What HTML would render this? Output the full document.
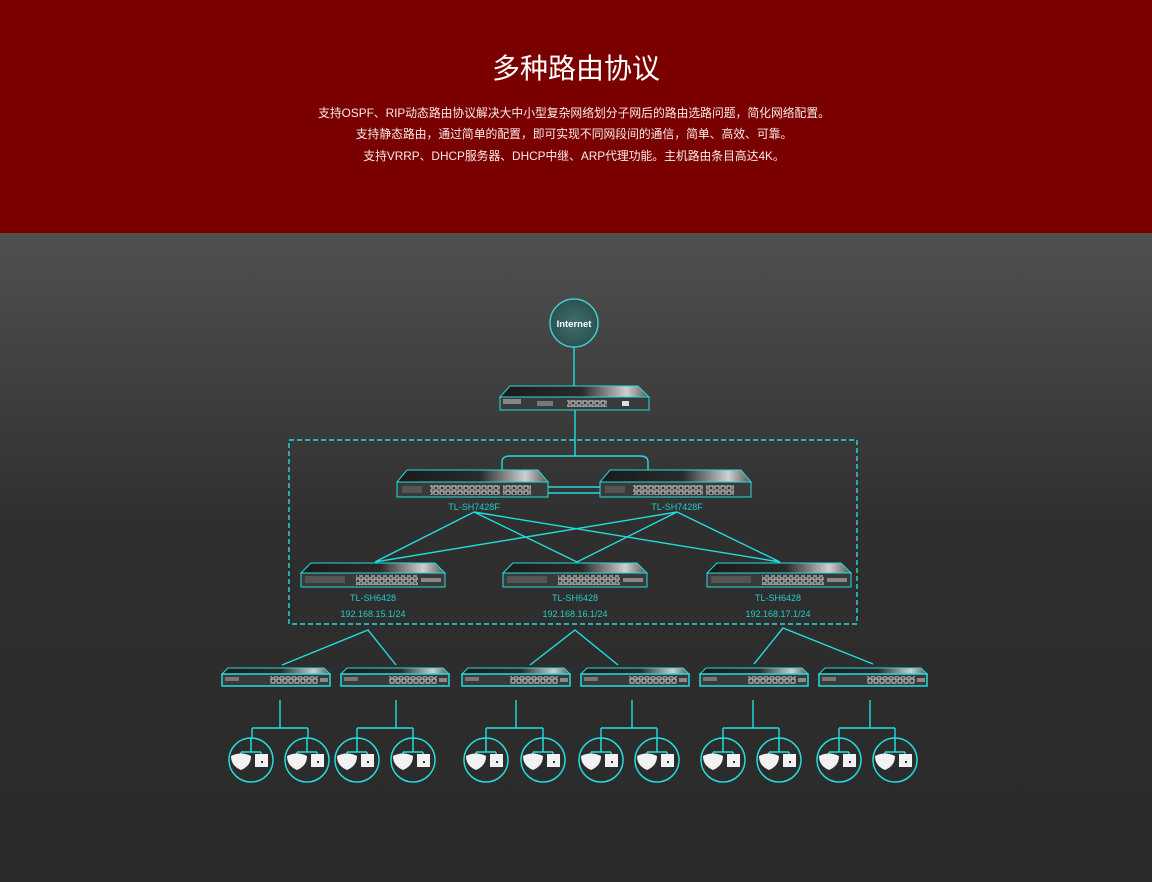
<!DOCTYPE html>
<html><head><meta charset="utf-8">
<style>
html,body{margin:0;padding:0;width:1152px;height:882px;overflow:hidden;background:#2b2b2b}
svg{display:block}
text{font-family:"Liberation Sans","Noto Sans CJK SC",sans-serif}
</style></head><body>
<svg width="1152" height="882" viewBox="0 0 1152 882" xmlns="http://www.w3.org/2000/svg">
<defs>
<linearGradient id="bg" x1="0" y1="0" x2="0" y2="1">
<stop offset="0" stop-color="#505050"/><stop offset="0.45" stop-color="#2f2f2f"/><stop offset="1" stop-color="#2a2a2a"/>
</linearGradient>
<linearGradient id="top" x1="0" y1="0" x2="1" y2="0">
<stop offset="0" stop-color="#1a1a1a"/><stop offset="0.55" stop-color="#2a2a2a"/><stop offset="0.85" stop-color="#cfcfcf"/><stop offset="1" stop-color="#555"/>
</linearGradient>
<radialGradient id="inet" cx="0.5" cy="0.5" r="0.5">
<stop offset="0" stop-color="#3f6e6e"/><stop offset="1" stop-color="#2c5252"/>
</radialGradient>
<pattern id="ports" width="6" height="5" patternUnits="userSpaceOnUse">
<rect x="0.5" y="0.5" width="5" height="4" fill="#ddd"/><rect x="1.5" y="1.5" width="3" height="2.5" fill="#333"/>
</pattern>
<g id="core">
<polygon points="10,0 141,0 151,12 0,12" fill="url(#top)" stroke="#2dd" stroke-width="1"/>
<rect x="0" y="12" width="151" height="15" fill="#3a3a3a" stroke="#2dd" stroke-width="1"/>
<rect x="33" y="15" width="70" height="10" fill="url(#ports)"/>
<rect x="106" y="15" width="28" height="10" fill="url(#ports)"/>
<rect x="5" y="16" width="20" height="7" fill="#555"/>
</g>
<g id="agg">
<polygon points="10,0 134,0 144,10 0,10" fill="url(#top)" stroke="#2dd" stroke-width="1"/>
<rect x="0" y="10" width="144" height="14" fill="#3a3a3a" stroke="#2dd" stroke-width="1"/>
<rect x="55" y="12" width="62" height="10" fill="url(#ports)"/>
<rect x="120" y="15" width="20" height="4" fill="#888"/>
<rect x="4" y="13" width="40" height="7" fill="#555"/>
</g>
<g id="acc">
<polygon points="6,0 102,0 108,6 0,6" fill="url(#top)" stroke="#2dd" stroke-width="1"/>
<rect x="0" y="6" width="108" height="12" fill="#3a3a3a" stroke="#2dd" stroke-width="1.5"/>
<rect x="48" y="8" width="48" height="8" fill="url(#ports)"/>
<rect x="98" y="10" width="8" height="4" fill="#888"/>
<rect x="3" y="9" width="14" height="4" fill="#777"/>
</g>
<g id="ap">
<circle cx="0" cy="0" r="22" fill="none" stroke="#2dd" stroke-width="1.5"/>
<path d="M0,-22 V-8 M-10,-8 H10 M-10,-8 V-5 M10,-8 V-6" stroke="#2dd" stroke-width="1.5" fill="none"/>
<path d="M-20,-4 Q-10,-9 0,-4 Q0,6 -10,10 Q-20,6 -20,-4Z" fill="#f2f2f2"/>
<rect x="4" y="-6" width="13" height="13" fill="#f2f2f2"/>
<rect x="10" y="1" width="2" height="2" fill="#333"/>
</g>
</defs>
<rect x="0" y="0" width="1152" height="233" fill="#7a0000"/>
<rect x="0" y="233" width="1152" height="649" fill="url(#bg)"/>
<text x="576" y="78" text-anchor="middle" fill="#fff" font-size="28">多种路由协议</text>
<g fill="#fbeaea" font-size="11.8" text-anchor="middle">
<text x="574" y="117">支持OSPF、RIP动态路由协议解决大中小型复杂网络划分子网后的路由选路问题，简化网络配置。</text>
<text x="574" y="138">支持静态路由，通过简单的配置，即可实现不同网段间的通信，简单、高效、可靠。</text>
<text x="574" y="160">支持VRRP、DHCP服务器、DHCP中继、ARP代理功能。主机路由条目高达4K。</text>
</g>
<g stroke="#2dd" stroke-width="1.4" fill="none">
<line x1="574" y1="347" x2="574" y2="386"/>
<line x1="575" y1="410" x2="575" y2="456"/>
<path d="M502,472 V462 Q502,456 510,456 H640 Q648,456 648,462 V472"/>
<line x1="548" y1="487" x2="600" y2="487"/><line x1="548" y1="493" x2="600" y2="493"/>
<rect x="289" y="440" width="568" height="184" stroke-dasharray="5,3"/>
<path d="M474,512 L375,562 M474,512 L577,562 M474,512 L780,562 M677,512 L375,562 M677,512 L577,562 M677,512 L780,562"/>
<path d="M282,665 L368,630 L396,665 M530,665 L575,630 L618,665 M754,664 L783,628 L873,664"/>
<path d="M280,700 V728 M252,728 H308 M252,728 V738 M308,728 V738"/>
<path d="M396,700 V728 M357,728 H413 M357,728 V738 M413,728 V738"/>
<path d="M516,700 V728 M486,728 H543 M486,728 V738 M543,728 V738"/>
<path d="M632,700 V728 M601,728 H657 M601,728 V738 M657,728 V738"/>
<path d="M753,700 V728 M723,728 H779 M723,728 V738 M779,728 V738"/>
<path d="M870,700 V728 M839,728 H895 M839,728 V738 M895,728 V738"/>
</g>
<circle cx="574" cy="323" r="24" fill="url(#inet)" stroke="#4cc" stroke-width="1.5"/>
<text x="574" y="327" text-anchor="middle" fill="#fff" font-size="9.5" font-weight="bold">Internet</text>
<g>
<polygon points="510,386 638,386 649,397 500,397" fill="url(#top)" stroke="#2dd"/>
<rect x="500" y="397" width="149" height="13" fill="#3a3a3a" stroke="#2dd"/>
<rect x="567" y="400" width="40" height="7" fill="url(#ports)"/>
<rect x="537" y="401" width="16" height="5" fill="#777"/>
<rect x="622" y="401" width="7" height="5" fill="#ddd"/>
<rect x="503" y="399" width="18" height="5" fill="#888"/>
</g>
<use href="#core" x="397" y="470"/><use href="#core" x="600" y="470"/>
<g fill="#2cc" font-size="9" text-anchor="middle">
<text x="474" y="510">TL-SH7428F</text><text x="677" y="510">TL-SH7428F</text>
<text x="373" y="601">TL-SH6428</text><text x="575" y="601">TL-SH6428</text><text x="778" y="601">TL-SH6428</text>
<text x="373" y="617">192.168.15.1/24</text><text x="575" y="617">192.168.16.1/24</text><text x="778" y="617">192.168.17.1/24</text>
</g>
<use href="#agg" x="301" y="563"/><use href="#agg" x="503" y="563"/><use href="#agg" x="707" y="563"/>
<use href="#acc" x="222" y="668"/><use href="#acc" x="341" y="668"/><use href="#acc" x="462" y="668"/>
<use href="#acc" x="581" y="668"/><use href="#acc" x="700" y="668"/><use href="#acc" x="819" y="668"/>
<use href="#ap" x="251" y="760"/><use href="#ap" x="307" y="760"/><use href="#ap" x="357" y="760"/><use href="#ap" x="413" y="760"/>
<use href="#ap" x="486" y="760"/><use href="#ap" x="543" y="760"/><use href="#ap" x="601" y="760"/><use href="#ap" x="657" y="760"/>
<use href="#ap" x="723" y="760"/><use href="#ap" x="779" y="760"/><use href="#ap" x="839" y="760"/><use href="#ap" x="895" y="760"/>
</svg>
</body></html>
